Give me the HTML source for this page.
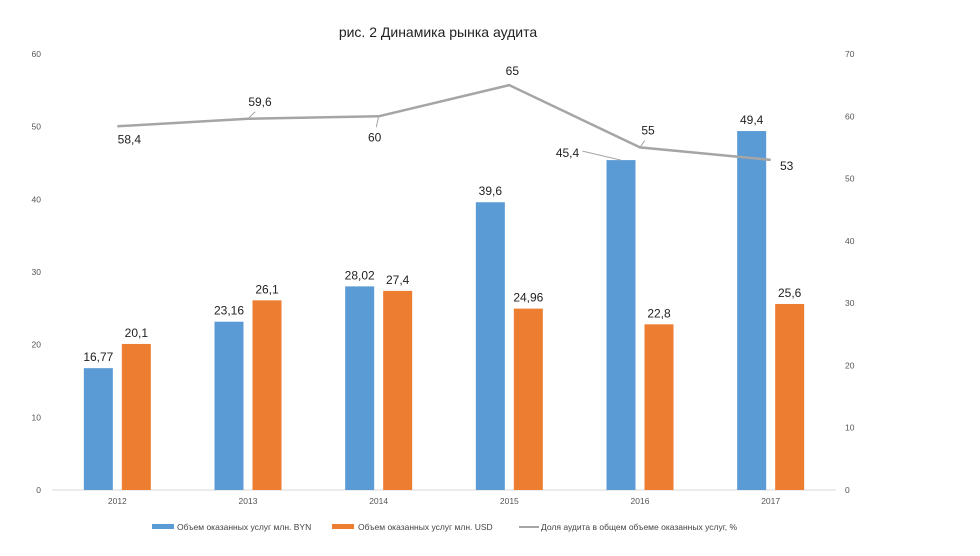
<!DOCTYPE html>
<html><head><meta charset="utf-8"><style>
body{margin:0;background:#fff;}
svg text{font-family:"Liberation Sans","DejaVu Sans",sans-serif;}
</style></head><body>
<svg id="c" width="980" height="551" xmlns="http://www.w3.org/2000/svg">
<text x="438" y="37" text-anchor="middle" font-size="14" fill="#222">рис. 2 Динамика рынка аудита</text>
<g id="axes"></g><g id="bars"></g><g id="line"></g><g id="labels"></g>
<g font-size="8.5" fill="#444">
<rect x="152" y="524" width="22" height="5" fill="#5b9bd5"/>
<text x="177" y="530">Объем оказанных услуг млн. BYN</text>
<rect x="332" y="524" width="22" height="5" fill="#ed7d31"/>
<text x="358" y="530">Объем оказанных услуг млн. USD</text>
<rect x="519" y="526" width="20" height="2" fill="#a5a5a5"/>
<text x="541" y="530">Доля аудита в общем объеме оказанных услуг, %</text>
</g>
</svg>
<script>
const categories=["2012","2013","2014","2015","2016","2017"];
const byn=[16.77,23.16,28.02,39.6,45.4,49.4];
const usd=[20.1,26.1,27.4,24.96,22.8,25.6];
const share=[58.4,59.6,60,65,55,53];
const bynLabels=["16,77","23,16","28,02","39,6","45,4","49,4"];
const usdLabels=["20,1","26,1","27,4","24,96","22,8","25,6"];
const shareLabels=["58,4","59,6","60","65","55","53"];
const leftTicks=[0,10,20,30,40,50,60];
const rightTicks=[0,10,20,30,40,50,60,70];

const NS="http://www.w3.org/2000/svg";
const x0=52,x1=836,yB=490,yT=54;
const band=(x1-x0)/categories.length;
const cx=i=>x0+band*(i+0.5);
const yL=v=>yB-(v/60)*(yB-yT);
const yR=v=>yB-(v/70)*(yB-yT);
function mk(tag,attrs,parent,txt){const e=document.createElementNS(NS,tag);for(const k in attrs)e.setAttribute(k,attrs[k]);if(txt!==undefined)e.textContent=txt;document.getElementById(parent).appendChild(e);return e;}
let e;
e=mk("line",{x1:x0,x2:x1,y1:yB,y2:yB,stroke:"#d9d9d9","stroke-width":1},"axes");


leftTicks.forEach(t=>{e=mk("text",{x:41,y:yL(t)+3,"text-anchor":"end","font-size":"8.5",fill:"#555"},"axes",String(t));

});
rightTicks.forEach(t=>{e=mk("text",{x:845,y:yR(t)+3,"font-size":"8.5",fill:"#555"},"axes",String(t));

});
categories.forEach((c,i)=>{e=mk("text",{x:cx(i),y:504,"text-anchor":"middle","font-size":"8.5",fill:"#555"},"axes",c);

});
const bw=29,gap=9;
categories.forEach((c,i)=>{
 const bx=cx(i)-gap/2-bw, ox=cx(i)+gap/2;
 e=mk("rect",{x:bx,y:yL(byn[i]),width:bw,height:yB-yL(byn[i]),fill:"#5b9bd5"},"bars");
 
 
 e=mk("rect",{x:ox,y:yL(usd[i]),width:bw,height:yB-yL(usd[i]),fill:"#ed7d31"},"bars");
 
 
 let lx=bx+bw/2, ly=yL(byn[i])-7;
 if(i==4){lx=bx-39; ly=yL(byn[i])-3;
  e=mk("line",{x1:bx-24,y1:yL(byn[i])-9,x2:bx+bw/2,y2:yL(byn[i]),stroke:"#a5a5a5","stroke-width":1},"labels");
  
  }
 e=mk("text",{x:lx,y:ly,"text-anchor":"middle","font-size":"12",fill:"#222"},"labels",bynLabels[i]);
 
 
 e=mk("text",{x:ox+bw/2,y:yL(usd[i])-7,"text-anchor":"middle","font-size":"12",fill:"#222"},"labels",usdLabels[i]);
 
 
});
e=mk("polyline",{points:share.map((v,i)=>cx(i)+","+yR(v)).join(" "),fill:"none",stroke:"#a5a5a5","stroke-width":2.5},"line");


const off=[[12,17],[12,-13],[-4,25],[3,-10],[8,-13],[16,10]];
share.forEach((v,i)=>{
 const px=cx(i),py=yR(v),lx=px+off[i][0],ly=py+off[i][1];
 if(i==1||i==2||i==4){e=mk("line",{x1:px,y1:py,x2:px+off[i][0]*0.6,y2:py+(off[i][1]>0?off[i][1]-14:off[i][1]+6),stroke:"#a5a5a5","stroke-width":1},"labels");
 
 }
 e=mk("text",{x:lx,y:ly,"text-anchor":"middle","font-size":"12",fill:"#222"},"labels",shareLabels[i]);
 
 
});
</script>
</body></html>
